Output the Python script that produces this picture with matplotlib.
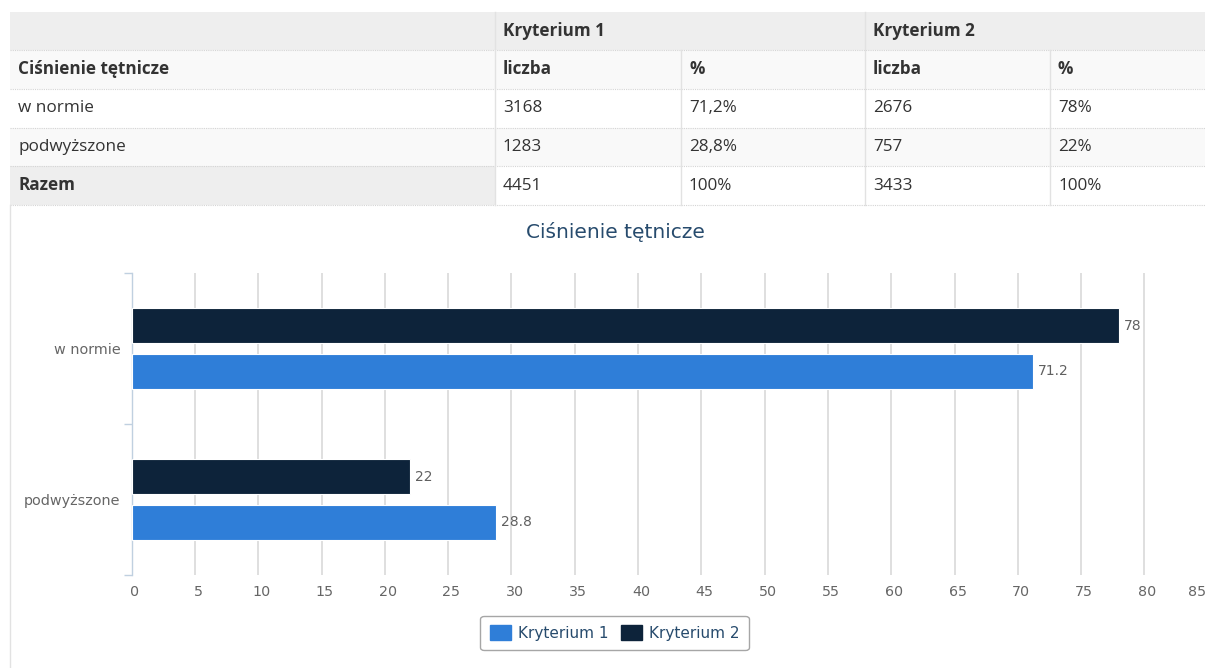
import matplotlib
matplotlib.use('Agg')
import matplotlib.pyplot as plt
import matplotlib.transforms as mtrans
import numpy as np
from matplotlib.patches import Rectangle, Patch

# --- data ---
row_header = u"Ciśnienie tętnicze"
groups = [u"Kryterium 1", u"Kryterium 2"]
sub_headers = [u"liczba", u"%", u"liczba", u"%"]
categories = [u"w normie", u"podwyższone"]
total_label = u"Razem"
count_k1 = [3168, 1283]
pct_k1 = [71.2, 28.8]
count_k2 = [2676, 757]
pct_k2 = [78, 22]
x_ticks = list(range(0, 90, 5))

W, H = 1205, 668
blue = '#2f7ed8'
navy = '#0d233a'
txt = '#333333'


def pl_pct(v):
    s = ('%g' % v).replace('.', ',')
    return s + '%'


fig = plt.figure(figsize=(W / 100.0, H / 100.0), dpi=100)

# overlay in pixel coordinates for the html table
bg = fig.add_axes([0, 0, 1, 1])
bg.set_xlim(0, W)
bg.set_ylim(H, 0)
bg.axis('off')

rows_y = [12, 50, 89, 128, 166, 205]
cols_x = [10, 495, 681, 865, 1050, W]

# row backgrounds
bg.add_patch(Rectangle((10, 12), W - 10, 38, color='#eeeeee', lw=0))
bg.add_patch(Rectangle((10, 50), W - 10, 39, color='#f9f9f9', lw=0))
bg.add_patch(Rectangle((10, 128), W - 10, 38, color='#f9f9f9', lw=0))
bg.add_patch(Rectangle((10, 166), 485, 39, color='#eeeeee', lw=0))

for y in rows_y[1:]:
    bg.plot([10, W], [y, y], color='#d4d4d4', lw=0.8, ls=(0, (1, 1)))
bg.plot([495, 495], [12, 205], color='#e2e2e2', lw=1)
bg.plot([865, 865], [12, 205], color='#e2e2e2', lw=1)
bg.plot([681, 681], [50, 205], color='#e2e2e2', lw=1)
bg.plot([1050, 1050], [50, 205], color='#e2e2e2', lw=1)
# chart container border
bg.plot([10, 10], [205, H], color='#e2e2e2', lw=1)

tf = dict(family=['Open Sans', 'DejaVu Sans'], fontsize=12.3, color=txt, va='center')
cy = [(rows_y[i] + rows_y[i + 1]) / 2.0 for i in range(5)]
pad = 8
bg.text(cols_x[1] + pad, cy[0], groups[0], fontweight='bold', **tf)
bg.text(cols_x[3] + pad, cy[0], groups[1], fontweight='bold', **tf)
bg.text(cols_x[0] + pad, cy[1], row_header, fontweight='bold', **tf)
for j, s in enumerate(sub_headers):
    bg.text(cols_x[j + 1] + pad, cy[1], s, fontweight='bold', **tf)
for i, c in enumerate(categories):
    vals = [str(count_k1[i]), pl_pct(pct_k1[i]), str(count_k2[i]), pl_pct(pct_k2[i])]
    bg.text(cols_x[0] + pad, cy[2 + i], c, **tf)
    for j, v in enumerate(vals):
        bg.text(cols_x[j + 1] + pad, cy[2 + i], v, **tf)
tot = [str(sum(count_k1)), pl_pct(round(sum(pct_k1))), str(sum(count_k2)), pl_pct(sum(pct_k2))]
bg.text(cols_x[0] + pad, cy[4], total_label, fontweight='bold', **tf)
for j, v in enumerate(tot):
    bg.text(cols_x[j + 1] + pad, cy[4], v, **tf)

# --- chart ---
x0, x1 = 131.7, 131.7 + 85 * 12.66
y_top, y_bot = 273, 575
ax = fig.add_axes([x0 / W, 1 - y_bot / float(H), (x1 - x0) / W, (y_bot - y_top) / float(H)])

ind = np.arange(len(categories))
bh = 0.232
off = 0.152
ax.barh(ind - off, pct_k2, height=bh, color=navy, edgecolor='white', lw=0.8, zorder=3)
ax.barh(ind + off, pct_k1, height=bh, color=blue, edgecolor='white', lw=0.8, zorder=3)

lab = dict(fontsize=10, color='#606060', va='center', family='DejaVu Sans')
for i in ind:
    ax.text(pct_k2[i] + 0.4, i - off, '%g' % pct_k2[i], **lab)
    ax.text(pct_k1[i] + 0.4, i + off, '%g' % pct_k1[i], **lab)

ax.set_xlim(0, 85)
ax.set_ylim(1.5, -0.5)
ax.set_xticks(x_ticks)
ax.set_xticklabels([str(t) for t in x_ticks])
ax.tick_params(axis='x', length=0, pad=7, labelsize=10.3, labelcolor='#666666')
for t in x_ticks[1:]:
    ax.axvline(t, color='#dcdcdc', lw=1.3, zorder=1)

# small right shift of the labels, last one pulled inside the canvas
labels = ax.get_xticklabels()
for k, lb in enumerate(labels):
    dx = 3 if k < len(labels) - 1 else -11
    lb.set_transform(lb.get_transform() + mtrans.ScaledTranslation(dx / 100.0, 0, fig.dpi_scale_trans))

ax.set_yticks([-0.5, 0.5, 1.5])
ax.set_yticklabels([])
ax.set_yticks(ind, minor=True)
ax.set_yticklabels(categories, minor=True)
ax.tick_params(axis='y', which='major', length=6, width=1, color='#c0d0e0', direction='out')
ax.tick_params(axis='y', which='minor', length=0, pad=8, labelsize=10.4, labelcolor='#666666')

for s in ['top', 'right', 'bottom']:
    ax.spines[s].set_visible(False)
ax.spines['left'].set_color('#c0d0e0')
ax.spines['left'].set_linewidth(1)
ax.set_facecolor('none')

fig.text(615 / float(W), 1 - 232 / float(H), row_header, ha='center', va='center',
         fontsize=14.5, color='#274b6d', family='DejaVu Sans')

handles = [Patch(facecolor=blue, edgecolor=blue), Patch(facecolor=navy, edgecolor=navy)]
leg = fig.legend(handles, groups, loc='center', ncol=2,
                 bbox_to_anchor=(614.5 / W, 1 - 633 / float(H)),
                 fontsize=11, frameon=True, fancybox=True,
                 handlelength=1.4, handleheight=1.05, handletextpad=0.45,
                 columnspacing=0.8, borderpad=0.6)
leg.get_frame().set_edgecolor('#909090')
leg.get_frame().set_linewidth(1)
for t in leg.get_texts():
    t.set_color('#274b6d')

fig.savefig('out.png', dpi=100)
